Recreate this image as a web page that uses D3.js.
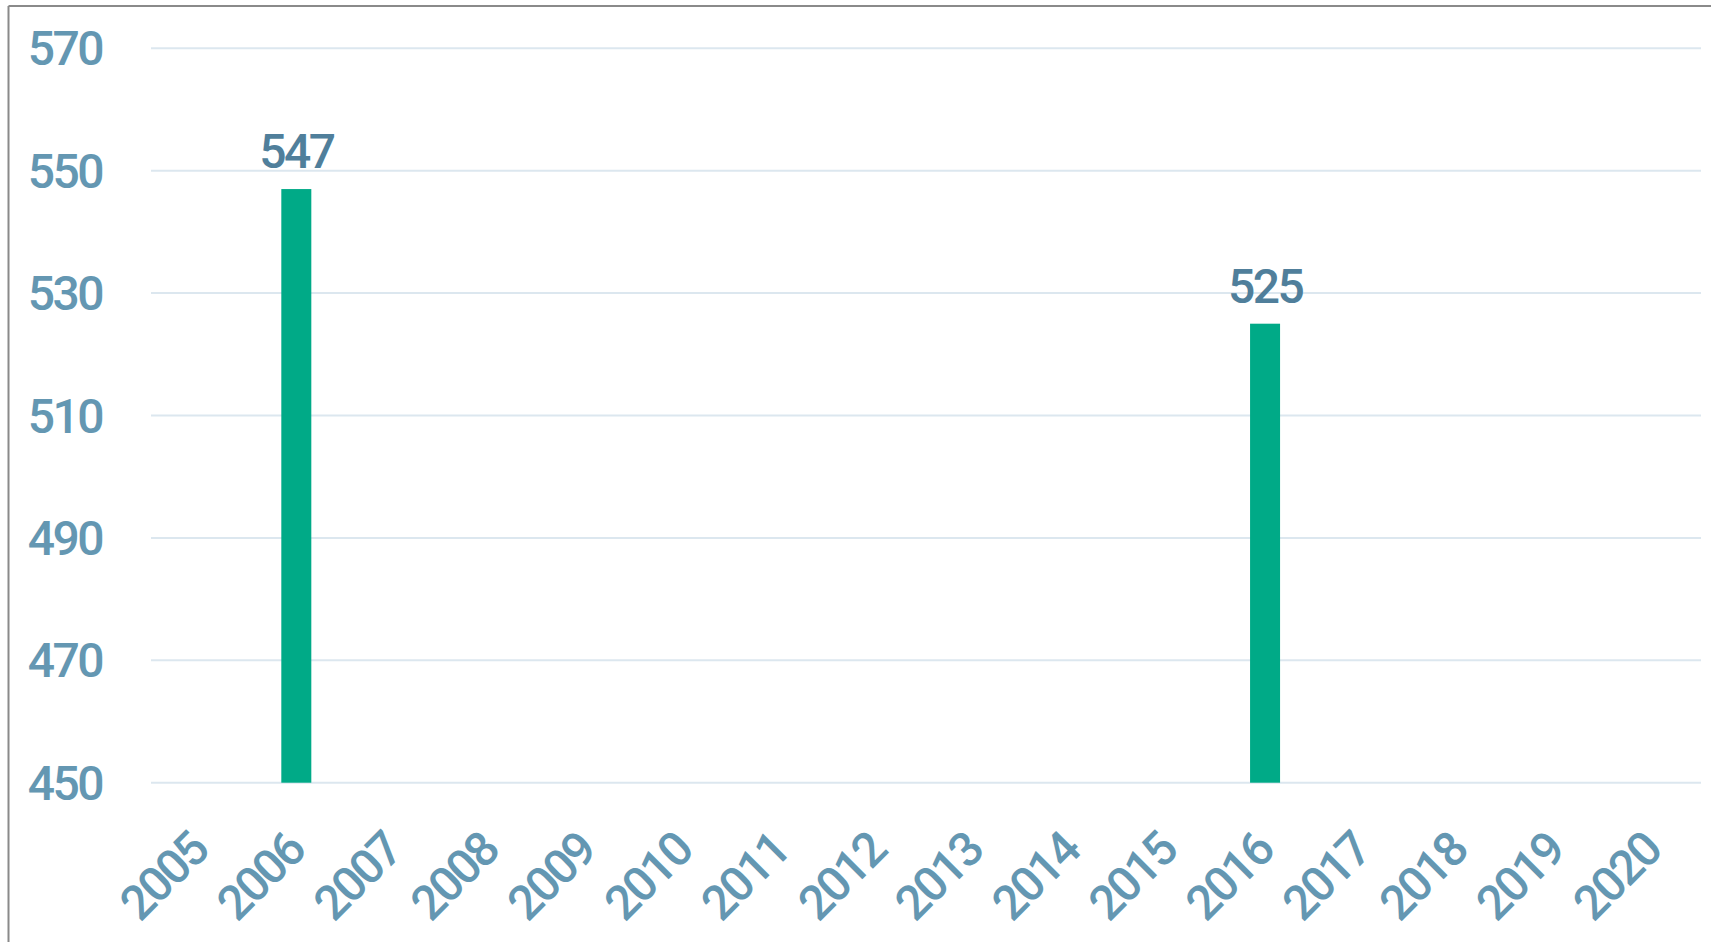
<!DOCTYPE html>
<html>
<head>
<meta charset="utf-8">
<script src="https://cdn.jsdelivr.net/npm/d3@7"></script>
<style>
  body { margin: 0; background: #ffffff; }
  text { font-family: "Roboto", sans-serif; font-weight: 500; letter-spacing: -2.5px; }
</style>
</head>
<body>
<div id="chart"></div>
<script>
// data
const years = ['2005','2006','2007','2008','2009','2010','2011','2012','2013','2014','2015','2016','2017','2018','2019','2020'];
const barYears = ['2006','2016'];
const barValues = [547, 525];
const yTicks = [450, 470, 490, 510, 530, 550, 570];

const width = 1711, height = 942;

let svg = d3.select("#chart")
    .append("svg")
    .attr("width", width)
    .attr("height", height);

// frame
svg.append("line")
    .attr("x1", 8.5).attr("y1", 6).attr("x2", width).attr("y2", 6)
    .attr("stroke", "#8a8a8a").attr("stroke-width", 2);
svg.append("line")
    .attr("x1", 8.5).attr("y1", 6).attr("x2", 8.5).attr("y2", height)
    .attr("stroke", "#8a8a8a").attr("stroke-width", 2);

let x = d3.scaleBand()
    .domain(years)
    .range([151, 1701])
    .paddingInner(0)
    .paddingOuter(0);

let y = d3.scaleLinear()
    .domain([450, 570])
    .range([782.7, 48.3]);

// grid lines
svg.selectAll(".grid")
    .data(yTicks)
  .enter().append("line")
    .attr("class", "grid")
    .attr("x1", 151)
    .attr("x2", 1701)
    .attr("y1", d => y(d))
    .attr("y2", d => y(d))
    .attr("stroke", "#dce7ef")
    .attr("stroke-width", 2);

// y labels
svg.selectAll(".ylabel")
    .data(yTicks)
  .enter().append("text")
    .attr("class", "ylabel")
    .attr("x", 102)
    .attr("y", d => y(d) + 17)
    .style("text-anchor", "end")
    .style("font-size", "48px")
    .attr("fill", "#6497b2")
    .text(d => d);

// bars
let barW = 30;
let bars = barYears.map((yr, i) => ({year: yr, value: barValues[i]}));

svg.selectAll(".bar")
    .data(bars)
  .enter().append("rect")
    .attr("class", "bar")
    .attr("x", d => x(d.year) + x.bandwidth() / 2 - barW / 2)
    .attr("y", d => y(d.value))
    .attr("width", barW)
    .attr("height", d => y(450) - y(d.value))
    .attr("fill", "#00aa87");

// value labels
svg.selectAll(".vlabel")
    .data(bars)
  .enter().append("text")
    .attr("class", "vlabel")
    .attr("x", d => x(d.year) + x.bandwidth() / 2)
    .attr("y", d => y(d.value) - 21)
    .style("text-anchor", "middle")
    .style("font-size", "48px")
    .attr("fill", "#507f9b")
    .text(d => d.value);

// x labels, rotated
svg.selectAll(".xlabel")
    .data(years)
  .enter().append("text")
    .attr("class", "xlabel")
    .attr("transform", d => "translate(" + (x(d) + x.bandwidth() / 2 + 11) + ",853) rotate(-45)")
    .style("text-anchor", "end")
    .style("font-size", "48px")
    .attr("fill", "#6497b2")
    .text(d => d);
</script>
</body>
</html>
